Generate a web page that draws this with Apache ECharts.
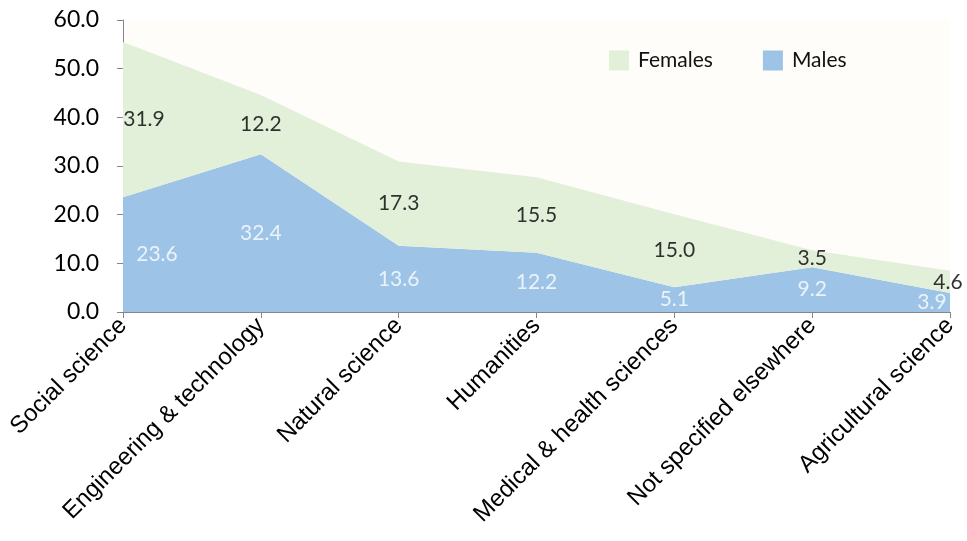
<!DOCTYPE html>
<html><head><meta charset="utf-8">
<script src="https://cdn.jsdelivr.net/npm/echarts@6/dist/echarts.min.js"></script>
<style>html,body{margin:0;padding:0;background:#fff}#c{width:967px;height:541px}</style>
</head><body><div id="c"></div>
<script>
var categories = ["Social science","Engineering & technology","Natural science","Humanities","Medical & health sciences","Not specified elsewhere","Agricultural science"];
var males = [23.6, 32.4, 13.6, 12.2, 5.1, 9.2, 3.9];
var females = [31.9, 12.2, 17.3, 15.5, 15.0, 3.5, 4.6];
var yTicks = [0, 10, 20, 30, 40, 50, 60];

var maleLabelOffsets = [[34,0],[0,0],[0,0],[0,0],[0,0],[0,0],[-18,0]];
var femaleLabelOffsets = [[21,0],[0,0],[0,0],[0,0],[0,0],[0,0],[-2,0]];

var maleLabelData = males.map(function(v,i){
  return {value:[i, v/2], raw:v, label:{offset:maleLabelOffsets[i]}};
});
var femaleLabelData = females.map(function(v,i){
  return {value:[i, males[i] + v/2], raw:v, label:{offset:femaleLabelOffsets[i]}};
});

var chart = echarts.init(document.getElementById('c'), null, {renderer:'canvas'});
chart.setOption({
  animation:false,
  backgroundColor:'#ffffff',
  grid:{left:123,right:17,top:20,bottom:229,show:true,backgroundColor:'#FEFDFA',borderWidth:0},
  legend:{
    left:604, top:45, itemWidth:20, itemHeight:20, itemGap:50,
    icon:'rect',
    data:['Females','Males'],
    textStyle:{fontFamily:'Lato',fontSize:21,color:'#111',padding:[0,0,0,4]}
  },
  xAxis:{
    type:'category', data:categories, boundaryGap:false,
    axisLine:{lineStyle:{color:'#868686',width:1}},
    axisTick:{show:true,length:6,lineStyle:{color:'#868686'}},
    axisLabel:{rotate:45,interval:0,margin:10,fontFamily:'Liberation Sans',fontSize:24,color:'#000'},
    splitLine:{show:false}
  },
  yAxis:{
    type:'value', min:yTicks[0], max:yTicks[yTicks.length-1], interval:10,
    axisLine:{show:true,lineStyle:{color:'#868686',width:1}},
    axisTick:{show:true,length:6,lineStyle:{color:'#868686'}},
    axisLabel:{margin:24,fontFamily:'Lato',fontSize:23,color:'#000',formatter:function(v){return v.toFixed(1);}},
    splitLine:{show:false}
  },
  series:[
    {name:'Males',type:'line',stack:'all',data:males,symbol:'none',
     lineStyle:{width:0},areaStyle:{color:'#9DC3E6',opacity:1},itemStyle:{color:'#9DC3E6'}},
    {name:'Females',type:'line',stack:'all',data:females,symbol:'none',
     lineStyle:{width:0},areaStyle:{color:'#E2EFD9',opacity:1},itemStyle:{color:'#E2EFD9'}},
    {type:'scatter',data:maleLabelData,symbolSize:0,silent:true,z:5,
     label:{show:true,position:'inside',color:'#ffffff',fontFamily:'Lato',fontSize:21,
       formatter:function(p){return p.data.raw.toFixed(1);}}},
    {type:'scatter',data:femaleLabelData,symbolSize:0,silent:true,z:5,
     label:{show:true,position:'inside',color:'#000000',fontFamily:'Lato',fontSize:21,
       formatter:function(p){return p.data.raw.toFixed(1);}}}
  ]
});
</script></body></html>
